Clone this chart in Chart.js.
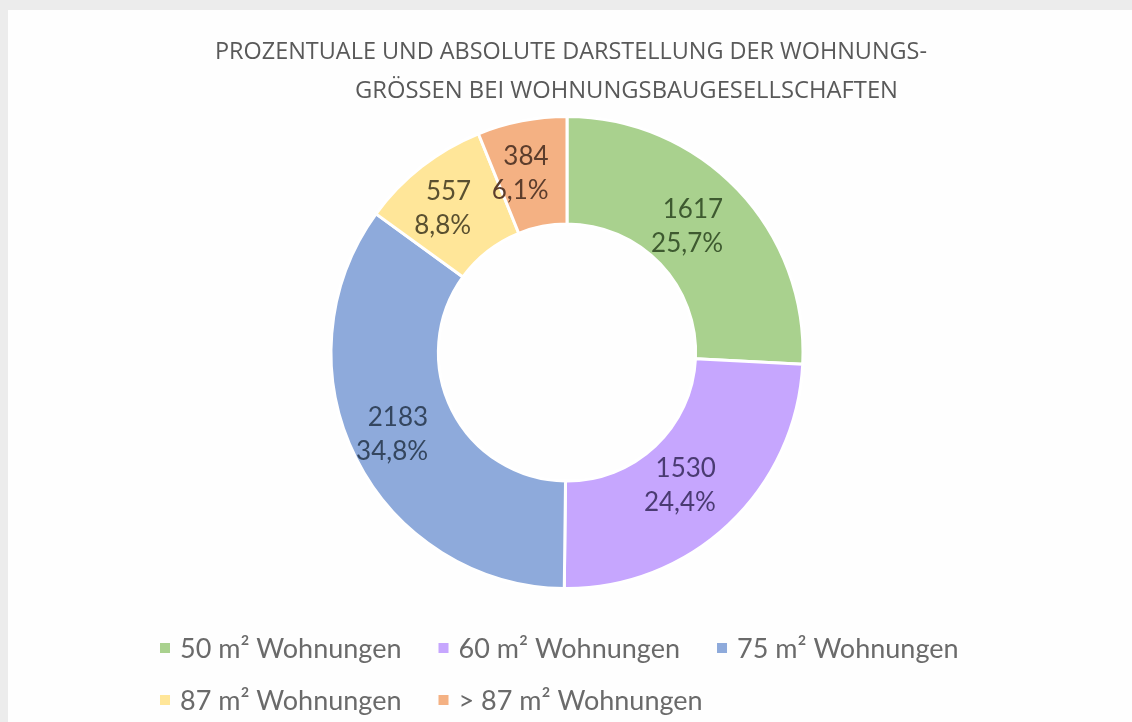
<!DOCTYPE html>
<html><head><meta charset="utf-8">
<script src="https://cdn.jsdelivr.net/npm/chart.js@4.4.1/dist/chart.umd.min.js"></script>
<style>
html,body{margin:0;padding:0;background:#ececec;width:1132px;height:722px;overflow:hidden}
#panel{position:absolute;left:8px;top:10px;right:0;bottom:0;background:#fefefe}
#c{position:absolute;left:0;top:0}
</style></head><body>
<div id="panel"></div>
<canvas id="c" width="1132" height="722"></canvas>
<script>
const titleLines = ['PROZENTUALE UND ABSOLUTE DARSTELLUNG DER WOHNUNGS-', 'GRÖSSEN BEI WOHNUNGSBAUGESELLSCHAFTEN'];
const categories = ['50 m² Wohnungen', '60 m² Wohnungen', '75 m² Wohnungen', '87 m² Wohnungen', '> 87 m² Wohnungen'];
const counts = [1617, 1530, 2183, 557, 384];
const percentLabels = ['25,7%', '24,4%', '34,8%', '8,8%', '6,1%'];
const sliceColors = ['#a9d18e', '#c6a6fe', '#8eaadb', '#ffe699', '#f4b183'];
const labelColors = ['#3e5a30', '#4a3b72', '#34465f', '#5a5030', '#5c3d2c'];

const titlePlugin = {
  id: 'titleText',
  afterDraw(chart) {
    const ctx = chart.ctx;
    const specs = [{left: 215, base: 59, w: 712}, {left: 355, base: 98, w: 543}];
    ctx.save();
    ctx.fillStyle = '#595959';
    ctx.font = '24px "Open Sans"';
    ctx.textAlign = 'left';
    ctx.textBaseline = 'alphabetic';
    titleLines.forEach((t, i) => {
      const s = specs[i];
      const m = ctx.measureText(t).width;
      ctx.save();
      ctx.translate(s.left, s.base);
      ctx.scale(s.w / m, 1);
      ctx.fillText(t, 0, 0);
      ctx.restore();
    });
    ctx.restore();
  }
};

const sliceLabelPlugin = {
  id: 'sliceLabels',
  afterDatasetsDraw(chart) {
    const ctx = chart.ctx;
    const meta = chart.getDatasetMeta(0);
    ctx.save();
    ctx.font = '26px Lato';
    ctx.textAlign = 'right';
    ctx.textBaseline = 'middle';
    meta.data.forEach((arc, i) => {
      const p = arc.getProps(['x', 'y', 'startAngle', 'endAngle', 'innerRadius', 'outerRadius'], true);
      const a = (p.startAngle + p.endAngle) / 2;
      const r = (p.innerRadius + p.outerRadius) / 2;
      const cx = p.x + Math.cos(a) * r - 12;
      const cy = p.y + Math.sin(a) * r;
      const lines = [String(counts[i]), percentLabels[i]];
      const w = Math.max(...lines.map(l => ctx.measureText(l).width));
      const right = cx + w / 2;
      ctx.fillStyle = labelColors[i];
      ctx.fillText(lines[0], right, cy - 17);
      ctx.fillText(lines[1], right, cy + 17);
    });
    ctx.restore();
  }
};

const legendPlugin = {
  id: 'flowLegend',
  afterDraw(chart) {
    const ctx = chart.ctx;
    const ds = chart.data.datasets[0];
    const startX = 160, firstRowY = 648, rowStep = 52, box = 10, boxGap = 10, itemGap = 37, maxRight = 1010;
    ctx.save();
    ctx.font = '27px Lato';
    ctx.textBaseline = 'middle';
    ctx.textAlign = 'left';
    let x = startX, y = firstRowY;
    chart.data.labels.forEach((lab, i) => {
      const tw = ctx.measureText(lab).width;
      const iw = box + boxGap + tw;
      if (x > startX && x + iw > maxRight) { x = startX; y += rowStep; }
      ctx.fillStyle = ds.backgroundColor[i];
      ctx.fillRect(x, y - box / 2, box, box);
      ctx.fillStyle = '#6a6a6a';
      ctx.fillText(lab, x + box + boxGap, y + 1);
      x += iw + itemGap;
    });
    ctx.restore();
  }
};

new Chart(document.getElementById('c'), {
  type: 'doughnut',
  data: {
    labels: categories,
    datasets: [{
      data: counts,
      backgroundColor: sliceColors,
      borderColor: '#ffffff',
      borderWidth: 3
    }]
  },
  options: {
    responsive: false,
    animation: false,
    cutout: '54.5%',
    layout: {padding: {top: 115, bottom: 132, left: 2, right: 0}},
    plugins: {legend: {display: false}, tooltip: {enabled: false}, title: {display: false}}
  },
  plugins: [titlePlugin, sliceLabelPlugin, legendPlugin]
});
</script>
</body></html>
